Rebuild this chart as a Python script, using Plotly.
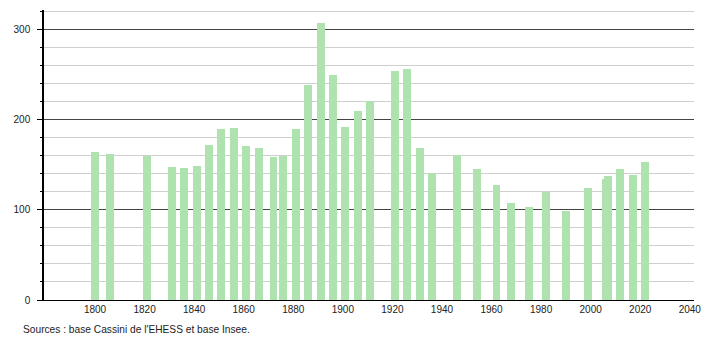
import plotly.graph_objects as go

years = [1800, 1806, 1821, 1831, 1836, 1841, 1846, 1851, 1856, 1861, 1866, 1872, 1876,
         1881, 1886, 1891, 1896, 1901, 1906, 1911, 1921, 1926, 1931, 1936, 1946, 1954,
         1962, 1968, 1975, 1982, 1990, 1999, 2006, 2007, 2012, 2017, 2022]
population = [164, 162, 160, 147, 146, 149, 172, 189, 191, 171, 168, 159, 160,
              189, 238, 307, 249, 192, 210, 221, 254, 256, 169, 141, 161, 145,
              127, 108, 103, 120, 99, 124, 134, 137, 145, 139, 153]
x_ticks = [1800, 1820, 1840, 1860, 1880, 1900, 1920, 1940, 1960, 1980, 2000, 2020, 2040]
y_ticks = [0, 100, 200, 300]
source = "Sources : base Cassini de l'EHESS et base Insee."

FONT = "Liberation Sans, Arial, sans-serif"

fig = go.Figure()
fig.add_trace(go.Bar(
    x=years, y=population, width=3.2,
    marker=dict(color="rgb(174,226,174)", line=dict(width=0)),
    hoverinfo="x+y",
))

fig.update_layout(
    width=710, height=340,
    margin=dict(l=44, r=9, t=10, b=40),
    paper_bgcolor="white", plot_bgcolor="white",
    showlegend=False,
    bargap=0,
    font=dict(family=FONT, size=10, color="#222"),
    xaxis=dict(
        range=[1779.4, 2041.7],
        tickvals=x_ticks, ticktext=[str(v) for v in x_ticks],
        showgrid=False, zeroline=False,
        showline=True, linecolor="black", linewidth=1,
        ticks="", tickfont=dict(family=FONT, size=10, color="#222"),
    ),
    yaxis=dict(
        range=[0, 321.4],
        tickvals=y_ticks, ticktext=[str(v) for v in y_ticks],
        showgrid=True, gridcolor="#444", gridwidth=1,
        zeroline=False,
        showline=True, linecolor="black", linewidth=1.5,
        ticks="outside", ticklen=5, tickcolor="black", tickwidth=1,
        ticklabelstandoff=5,
        tickfont=dict(family=FONT, size=10, color="#222"),
        minor=dict(dtick=20, tick0=0, showgrid=True, gridcolor="#cfcfcf", gridwidth=1,
                   ticks="outside", ticklen=2, tickcolor="black"),
    ),
    annotations=[dict(
        text=source, xref="paper", yref="paper",
        x=(21 - 44) / 657, y=-29.5 / 290, xanchor="left", yanchor="middle",
        showarrow=False, font=dict(family=FONT, size=10.2, color="#222"),
    )],
)

fig.write_html("out.html")
